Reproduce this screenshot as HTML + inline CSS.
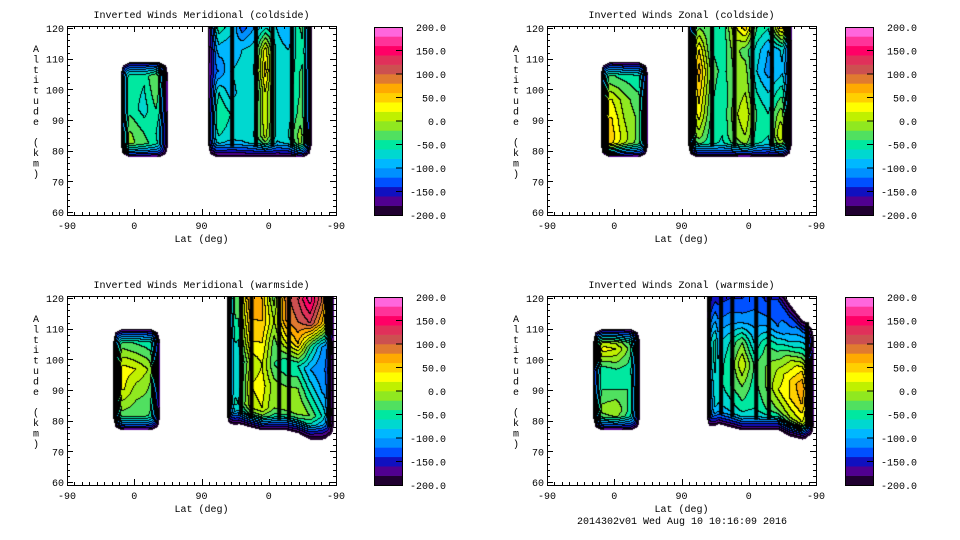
<!DOCTYPE html>
<html><head><meta charset="utf-8">
<style>
html,body{margin:0;padding:0;background:#fff;}
#root{position:relative;width:960px;height:540px;overflow:hidden;background:#fff;font-family:"DejaVu Sans Mono","Liberation Mono",monospace;}
canvas{position:absolute;}
svg{position:absolute;left:0;top:0;}
text{font-family:"Liberation Mono","DejaVu Sans Mono",monospace;font-size:10px;fill:#000;}
</style></head>
<body>
<div id="root">
<svg id="svg" width="960" height="540"></svg>
</div>
<script>
// ---- data ----
const bandColors=["#200030","#500090","#1010c0","#0050ff","#0090ff","#00b8ff","#00d8d0","#00e8a0","#50e060","#90e820","#c0f000","#ffff00","#ffd000","#ffaa00","#e07a30","#cc5050","#e0305a","#ff0066","#ff3399","#ff66dd"];
const cbarLabels=["200.0","150.0","100.0","50.0","0.0","-50.0","-100.0","-150.0","-200.0"];
const xTickLabels=["-90","0","90","0","-90"];
const yTickLabels=["60","70","80","90","100","110","120"];
const titles=["Inverted Winds Meridional (coldside)","Inverted Winds Zonal (coldside)","Inverted Winds Meridional (warmside)","Inverted Winds Zonal (warmside)"];

const tlLeft={x0:71,x1:135,a0:78,a1:109,vals:[
[-20,-10,-20,-40,-120],[-10,-20,-40,-60,-120],[-40,-50,-70,-40,-100],[-30,-50,-60,-20,-100],[-60,-50,-40,-20,-120]]};
const tlRight={x0:188,x1:327,a0:78,a1:127,vals:[
[-120,-110,-120,-110,-100,-100,-110,-100,-20,-100],
[-80,-60,-70,-70,-60,10,-70,-60,-10,-60],
[-100,-40,-60,-70,-70,20,-70,-70,-30,-40],
[-120,-60,-90,-70,-80,20,-70,-70,-40,-30],
[-130,-120,-80,-70,-60,50,-70,-80,-40,-30],
[-140,-90,-100,-80,-70,30,-70,-80,-50,-20],
[-120,-50,-70,-130,-100,-60,-80,-100,-40,-20],
[-130,10,-80,-150,-110,-90,-100,-100,-30,10]]};
const tlGaps=[221,253,275,301];
const trLeft={x0:71,x1:135,a0:78,a1:109,vals:[
[30,20,-20,-40,-60],[70,50,10,-20,-40],[50,40,0,-20,-40],[30,20,-10,-30,-40],[-20,-30,-40,-50,-60],[-60,-60,-70,-70,-80]]};
const trRight={x0:188,x1:327,a0:78,a1:127,vals:[
[-100,-80,-60,-70,-60,-40,-70,-80,-60,-60],
[-30,-10,-50,-60,-20,0,-50,-60,20,-20],
[-20,30,-40,-60,-10,20,-40,-60,-10,-20],
[-20,50,-30,-60,-20,0,-60,-80,-50,-40],
[-10,70,-20,-50,-20,-10,-80,-110,-90,-60],
[-30,40,-40,-60,-10,-30,-70,-100,-80,-50],
[-60,-20,-40,-60,10,50,-40,-60,40,60],
[-80,-60,-40,-50,20,70,-20,-50,60,80]]};
const trGaps=[221,251,275,301,324];
const blLeft={x0:61,x1:124,a0:77,a1:110,vals:[
[-80,-60,-50,-60,-100],[-10,-20,-30,-30,-80],[20,20,-10,-20,-60],[20,30,20,0,-40],[-20,-20,-30,-40,-60],[-60,-70,-70,-70,-80]]};
const blRight={x0:213,x1:357,a0:74,a1:127,bottoms:[78,79,78,77,77,77,76,74,74,75],vals:[
[-120,-110,-100,-100,-100,-110,-120,-140,-150,-150],
[-40,-60,10,20,-20,-10,0,-20,-60,-120],
[-30,-80,20,30,-10,-20,-20,-60,-100,-120],
[-40,-80,0,20,-40,-60,-60,-100,-120,-120],
[-50,-60,40,40,-30,20,60,-40,-100,-100],
[-40,-40,60,60,0,80,100,120,60,-40],
[-30,-30,80,60,-30,90,120,170,100,-40],
[-40,-50,70,50,-40,80,110,150,90,-40]]};
const blGaps=[217,233,247,284,297,351];
const brLeft={x0:61,x1:124,a0:77,a1:110,vals:[
[-80,-60,-50,-70,-100],[-20,-10,0,-40,-80],[-40,-40,-40,-40,-80],[-50,-50,-40,-50,-80],[20,30,20,-20,-80],[-60,-60,-60,-70,-90]]};
const brRight={x0:213,x1:357,a0:74,a1:127,bottoms:[77,79,78,77,77,77,77,75,74,75],tops:[127,127,127,127,127,126,124,118,113,111],vals:[
[-110,-110,-110,-110,-110,-110,-120,-130,-130,-130],
[-60,-80,-70,-50,-60,-40,-20,0,20,-40],
[-40,-70,-40,-20,-50,-20,20,40,60,-30],
[20,-80,-40,20,-40,-20,0,40,80,-20],
[40,-90,-60,-20,-80,-40,-50,0,40,-40],
[-60,-120,-110,-110,-110,-110,-120,-80,-40,-60],
[-140,-150,-140,-140,-130,-140,-130,-130,-100,-100],
[-160,-170,-150,-160,-150,-160,-160,-150,-140,-140]]};
const brGaps=[217,233,248,280,297,348];

const panels=[
 {X:67,Y:26,blocks:[tlLeft,tlRight],gaps:[[tlRight,tlGaps]],cb:374},
 {X:547,Y:26,blocks:[trLeft,trRight],gaps:[[trRight,trGaps]],cb:845},
 {X:67,Y:296,blocks:[blLeft,blRight],gaps:[[blRight,blGaps]],cb:374},
 {X:547,Y:296,blocks:[brLeft,brRight],gaps:[[brRight,brGaps]],cb:845}];

const PW=269,PH=189,INX=9,INY=14;
function xs(p,d){return p.X+d*PW/360;}
function ys(p,a){return p.Y+2+(120-a)*(184/60);}
const NS="http://www.w3.org/2000/svg";
const svg=document.getElementById('svg');
const root=document.getElementById('root');
function mk(tag,attrs,parent){const e=document.createElementNS(NS,tag);for(const k in attrs)e.setAttribute(k,attrs[k]);(parent||svg).appendChild(e);return e;}
function interp(arr,t){const n=arr.length-1;const f=Math.max(0,Math.min(n,t*n));const i=Math.min(n-1,Math.floor(f));const r=f-i;return arr[i]*(1-r)+arr[i+1]*r;}
function bil(vals,u,v){const nr=vals.length-1;const fr=Math.max(0,Math.min(nr,v*nr));const i=Math.min(nr-1,Math.floor(fr));const r=fr-i;
 return interp(vals[i],u)*(1-r)+interp(vals[i+1],u)*r;}

panels.forEach((p,pi)=>{
 const cv=document.createElement('canvas');cv.width=PW;cv.height=PH;
 cv.style.left=p.X+'px';cv.style.top=p.Y+'px';
 
 
 root.insertBefore(cv,svg);
 const ctx=cv.getContext('2d');
 const band=new Int8Array(PW*PH).fill(-1);
 for(let j=0;j<PH;j++)for(let i=0;i<PW;i++){
  const px=p.X+i,py=p.Y+j;
  for(const b of p.blocks){
   const bx0=xs(p,b.x0),bx1=xs(p,b.x1);
   if(px<bx0||px>bx1)continue;
   const u=(px-bx0)/(bx1-bx0);
   const bot=b.bottoms?interp(b.bottoms,u):b.a0;
   const top=b.tops?interp(b.tops,u):b.a1;
   const by0=ys(p,top),by1=ys(p,bot);
   if(py<by0||py>by1)continue;
   const v=(by1-py)/(by1-by0);
   let val=bil(b.vals,Math.max(0,Math.min(1,u)),Math.max(0,Math.min(1,v)));
   const ox=Math.max(0,INX-(px-bx0),INX-(bx1-px))/INX;
   const oy=Math.max(0,INY-(py-by0),INY-(by1-py))/INY;
   const dist=Math.max(ox,oy)+0.35*Math.min(ox,oy);
   if(dist>1.02)continue;
   const f=Math.max(0,Math.min(1,1-dist));
   val=-200+(val+200)*Math.pow(f,0.7);
   band[j*PW+i]=Math.max(0,Math.min(19,Math.floor((val+200)/20)));
   break;
  }
 }
 const img=ctx.createImageData(PW,PH);
 for(let j=0;j<PH;j++)for(let i=0;i<PW;i++){
  const k=j*PW+i,bd=band[k];let c=[255,255,255];
  if(bd>=0){
   const h=bandColors[bd];c=[parseInt(h.substr(1,2),16),parseInt(h.substr(3,2),16),parseInt(h.substr(5,2),16)];
   const r=i+1<PW?band[k+1]:bd,dn=j+1<PH?band[k+PW]:bd;
   if((r>=0&&r!==bd)||(dn>=0&&dn!==bd))c=[0,0,0];
  }
  img.data[k*4]=c[0];img.data[k*4+1]=c[1];img.data[k*4+2]=c[2];img.data[k*4+3]=255;
 }
 ctx.putImageData(img,0,0);
 p.gaps.forEach(([b,gl])=>{gl.forEach(g=>{
  const u=(g-b.x0)/(b.x1-b.x0);
  const bot=b.bottoms?interp(b.bottoms,u):b.a0,top=b.tops?interp(b.tops,u):b.a1;
  const yt=Math.max(p.Y,ys(p,top));
  ctx.fillStyle='#000';ctx.fillRect(xs(p,g)-p.X-2,yt-p.Y,4,ys(p,bot)-yt-10);
 });});

 const g=mk('g',{});
 mk('rect',{x:p.X+0.5,y:p.Y+0.5,width:PW,height:PH,fill:'none',stroke:'#000','stroke-width':1,},g);
 let dpath='';
 for(let d=0;d<=360;d+=10){const x=Math.round(xs(p,d))+0.5;const L=d%90===0?6:3;
  dpath+=`M${x} ${p.Y+PH}v${-L}M${x} ${p.Y}v${L}`;}
 for(let a=60;a<=120;a+=2){const y=Math.round(ys(p,a))+0.5;const L=a%10===0?6:3;
  dpath+=`M${p.X}  ${y}h${L}M${p.X+PW} ${y}h${-L}`;}
 mk('path',{d:dpath,stroke:'#000','stroke-width':1,fill:'none',},g);
 xTickLabels.forEach((t,i)=>{const e=mk('text',{x:xs(p,i*90),y:p.Y+PH+14,'text-anchor':'middle',},g);e.textContent=t;});
 yTickLabels.forEach((t,i)=>{const e=mk('text',{x:p.X-3,y:ys(p,60+i*10)+4,'text-anchor':'end',},g);e.textContent=t;});
 const xt=mk('text',{x:p.X+PW/2,y:p.Y+PH+27,'text-anchor':'middle',},g);xt.textContent='Lat (deg)';
 const tt=mk('text',{x:p.X+PW/2,y:p.Y-8,'text-anchor':'middle',},g);tt.textContent=titles[pi];
 const yt=mk('text',{x:p.X-31,y:p.Y+26,'text-anchor':'middle',},g);
 'Altitude (km)'.split('').forEach((ch,i)=>{const s=mk('tspan',{x:p.X-31,dy:i===0?0:10.4},yt);s.textContent=ch===' '?'\u00a0':ch;});
 const cg=mk('g',{});
 const cx=p.cb,cy0=p.Y+1,cy1=p.Y+PH,bh=(cy1-cy0)/20;
 bandColors.forEach((c,i)=>{mk('rect',{x:cx,y:cy1-(i+1)*bh,width:28,height:bh+0.3,fill:c,},cg);});
 mk('rect',{x:cx+0.5,y:cy0+0.5,width:28,height:cy1-cy0,fill:'none',stroke:'#000',},cg);
 cbarLabels.forEach((t,i)=>{const y=cy0+i*(cy1-cy0)/8;
  if(i>0&&i<8)mk('line',{x1:cx+22,x2:cx+28,y1:y,y2:y,stroke:'#000',},cg);
  const e=mk('text',{x:cx+72,y:y+4,'text-anchor':'end',},cg);e.textContent=t;});
});
const st=mk('text',{x:682,y:524,'text-anchor':'middle',});st.textContent='2014302v01 Wed Aug 10 10:16:09 2016';
</script>
</body></html>
